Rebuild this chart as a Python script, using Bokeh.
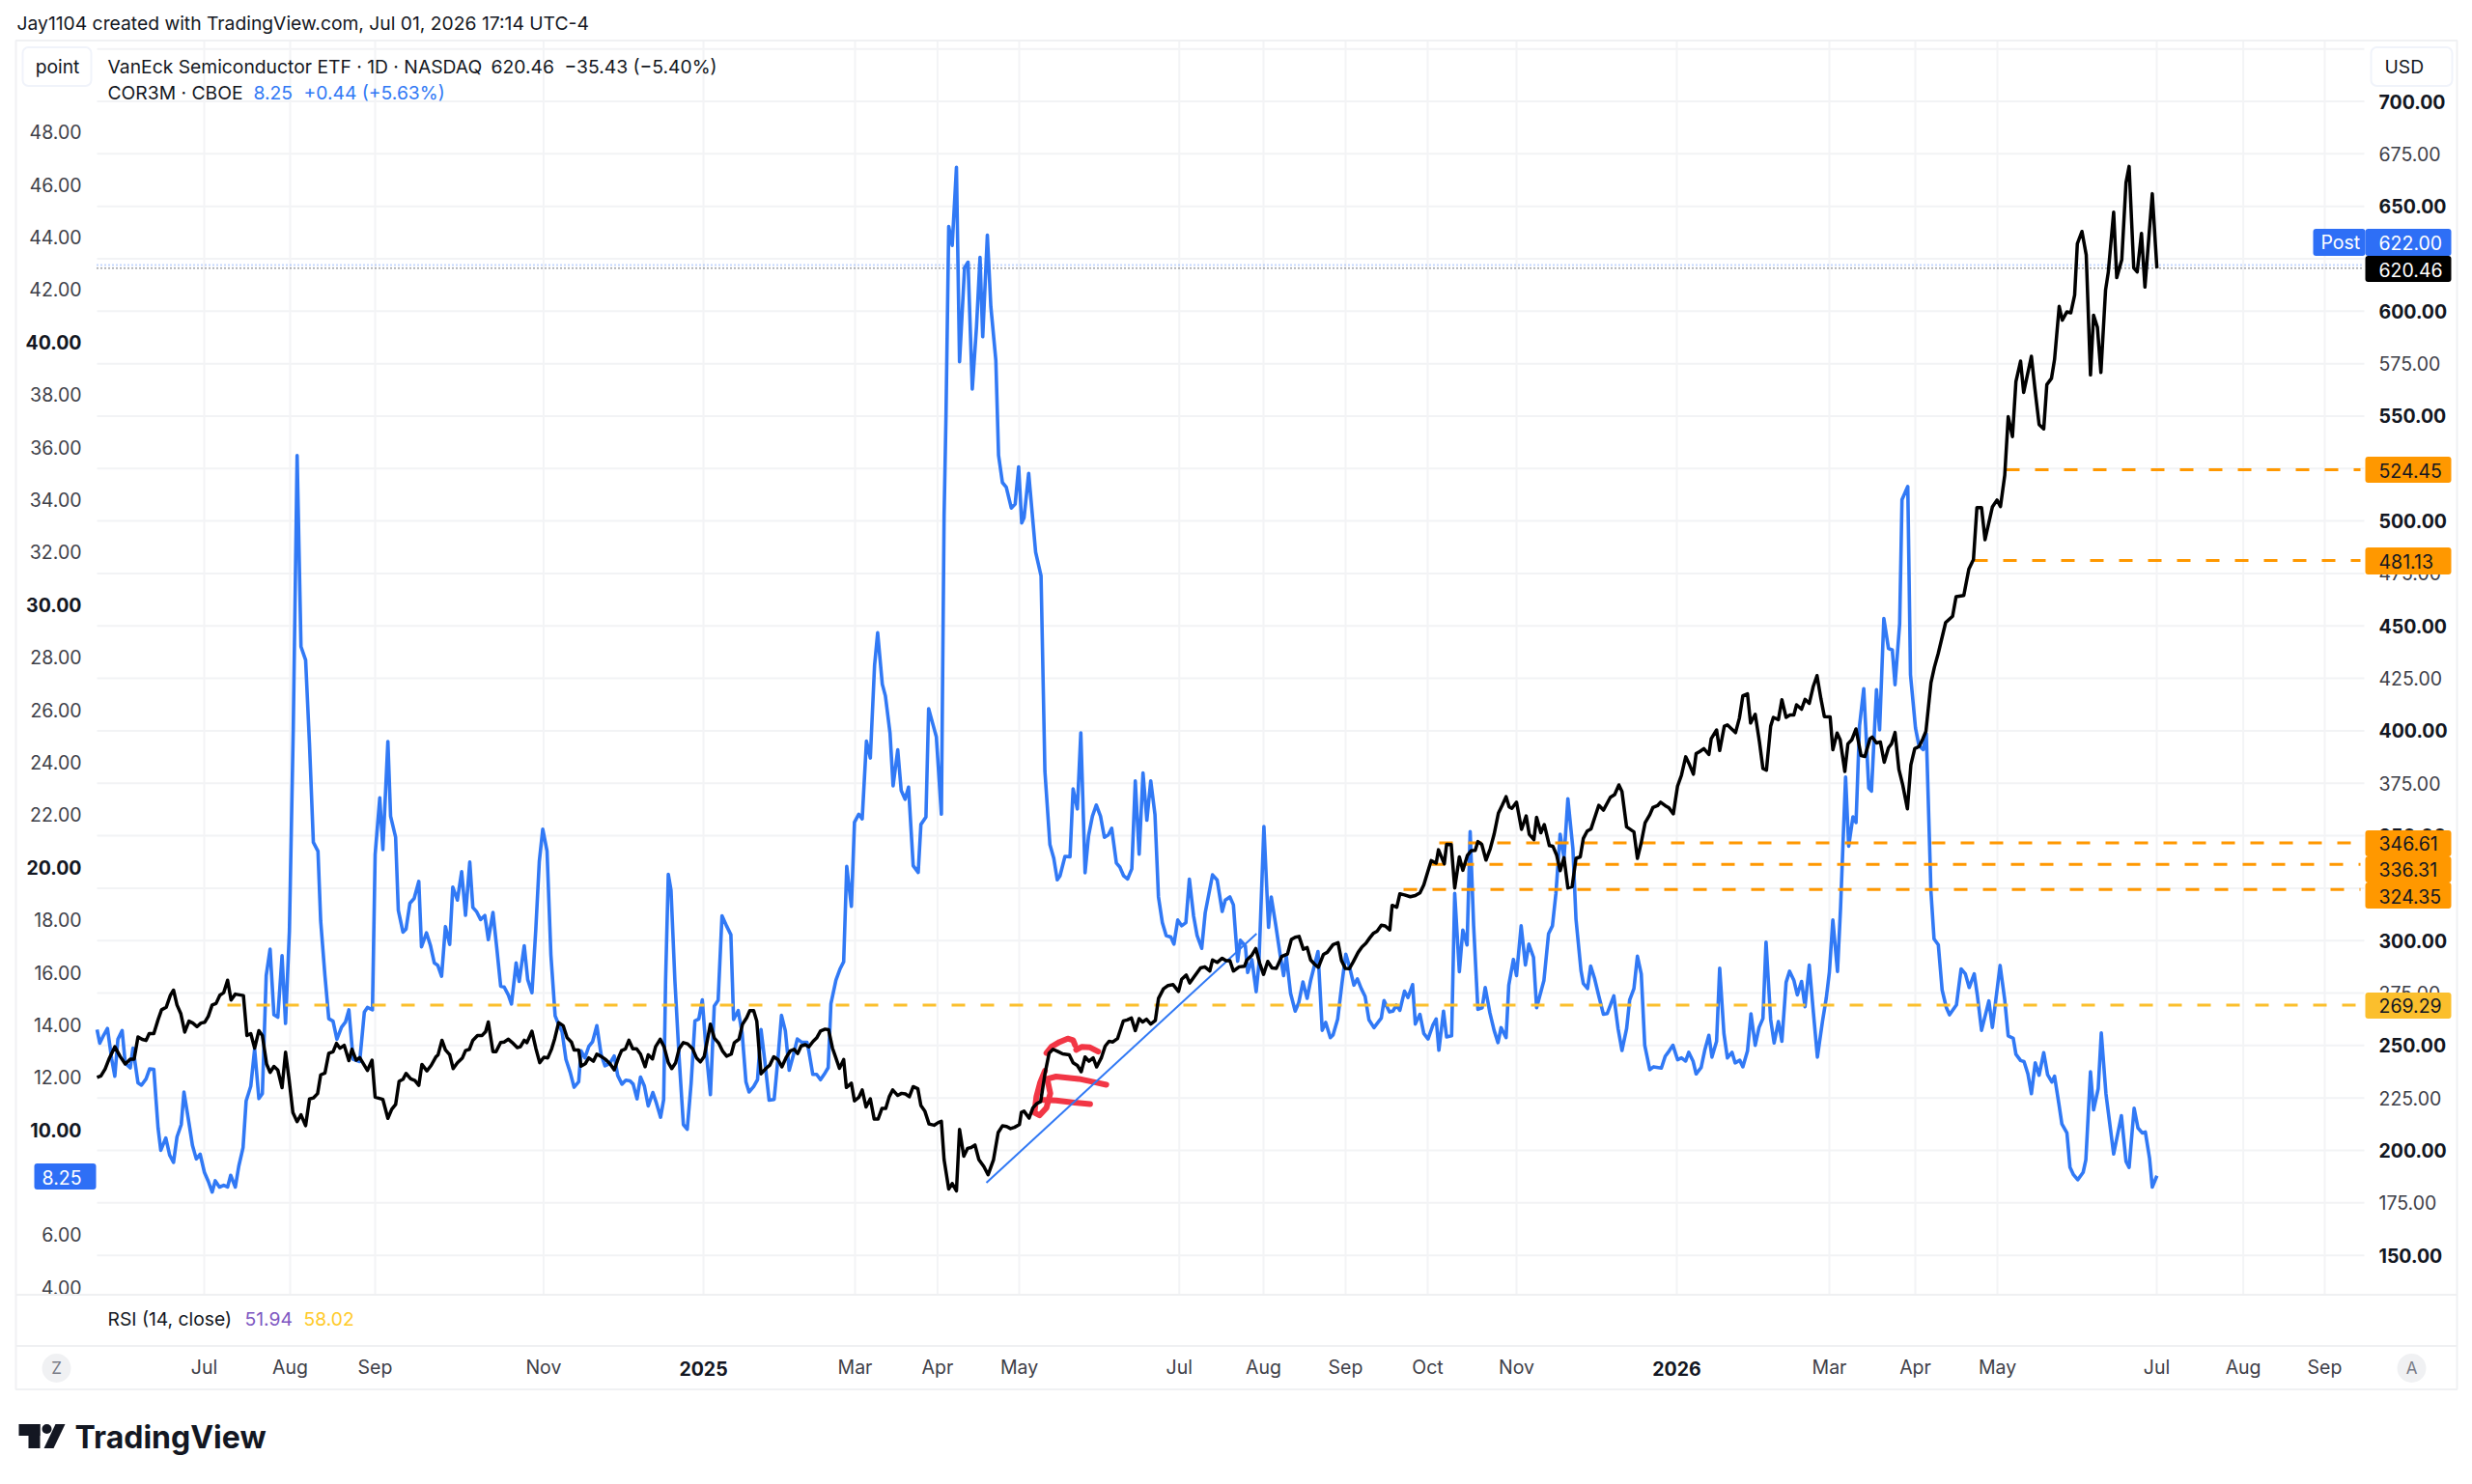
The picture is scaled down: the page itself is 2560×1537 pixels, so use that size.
from bokeh.plotting import figure
from bokeh.models import (Range1d, LinearAxis, FixedTicker, Label, BoxAnnotation, PolyAnnotation)
from bokeh.embed import file_html
from bokeh.resources import INLINE

# (session index, SMH close in USD) - right scale
smh_close = [
(0,234.8),(1,235.5),(2.1,238.8),(3.2,244),(4.6,249.4),(6,244.7),(7.3,241.2),(8.6,243.5),(9.6,243.5),(10.6,254.1),
(11.7,252.9),(12.7,252.4),(13.5,255.7),(14.7,255.7),(15.8,262.3),(16.7,267),(17.9,268.2),(19,274),(19.8,276.4),(20.7,269.3),
(21.7,265.1),(22.7,256.4),(23.8,261.6),(24.8,260.7),(25.9,259),(26.9,260.7),(27.9,261.1),(28.8,263.9),(29.8,269.3),(30.8,270),
(31.8,274),(32.8,275.2),(33.8,281.1),(34.7,271.7),(35.8,274.5),(37.9,273.8),(38.8,254.8),(39.8,255.7),(40.8,248.7),(41.9,257.1),
(42.8,254.8),(43.9,241.2),(44.8,237.2),(45.8,240),(46.8,238.3),(47.9,229.9),(48.8,246.8),(49.7,234.1),(50.7,218.1),(51.8,213.7),
(52.8,217),(54,211.8),(55,224.5),(56,225),(57.1,227.1),(57.9,236),(59,236.9),(60,246.3),(61.1,247),(62,251),
(62.9,248.7),(64,250.1),(65.2,242.8),(66,248.2),(67.1,243),(68,244.2),(70,238.1),(71.2,243),(72,225.4),(74,224.3),
(75.3,215.3),(76.3,219.6),(77.3,221.9),(78.2,232.9),(79.2,233.9),
(80,236.7),(81.2,234.1),(82.3,233.3),(83.3,231),(84.1,241),(85.4,237.9),(86.5,240.5),(87.7,244.5),(88.3,245.6),(89.3,252.5),
(90.2,247.9),(91.3,245.6),(92.2,239),(93.3,241.8),(94.6,244.1),(95.4,247.6),(96.4,248.2),(97.3,252.5),(98.5,254.8),(99.7,254.8),
(100.6,256.6),(101.3,261.2),(102.5,247.1),(103.3,247.1),(104.5,251.4),(105.4,251.7),(106.5,253),(107.5,251.4),(108.8,249),(109.6,249.4),
(110.6,252.5),(111.3,251.4),(112.6,256.8),(113.6,248.7),(114.6,241.8),(115.7,244.4),(116.7,244.1),(117.7,248.4),(118.5,253.3),(119.5,260.9),
(120.7,259.4),(121.7,253.7),(122.8,251.7),(123.5,247.9),(124.7,247.9),(125.3,240.2),(126.4,241.3),(127.3,244.1),(128.5,242.5),(129.4,245.9),
(130.5,244.8),(131.7,243.3),(132.8,241.3),(133.9,238.4),(135,244.1),(135.8,247.6),(136.8,248.4),(137.7,252.5),(138.7,248.4),(139.7,248.4),
(140.7,245.9),(141.9,239.9),(142.7,245.6),(143.8,243.6),(144.6,249.4),(145.8,253),(146.8,249.4),(147.9,241.8),(148.8,239),(149.8,241.8),
(150.7,248.4),(151.8,251.4),(152.9,250.8),(154.2,248.4),(155.2,244.1),(156.2,242.2),(157.2,244.8),(158,252.5),(158.8,260.2),(159.8,253.6),
(161,251),(162,247.2),(163,244.9),(164.2,245.9),(165,251.4),(166.2,253),(167.1,260.1),(168.2,263.3),(169,266.6),(170,266.6),
(170.8,261.7),(171.9,236.5),(173.2,239.1),(174.2,240.7),(175.2,244.6),(176.3,243.3),(177.3,239.8),(178.5,244.6),(179.5,247.5),(180.5,248.2),
(181.4,246.2),(182.3,249.8),(183.4,250.4),(184.3,249.4),(185.4,252),(186.3,253.6),(187.3,256.9),(188.5,257.8),(189.4,257.5),(190.4,248.8),
(191.3,244),(192.2,239.1),(193.3,243.3),(194,230),(195.3,232),(196.1,223.6),(197.2,225.2),(198.1,228.8),(199.1,220.7),(200.2,224.6),
(201.2,214.9),(202.2,214.9),(203.2,220),(204.2,220),(205.1,225.6),(206,228.8),(207.3,226.2),(208.3,227.2),(209.3,226.9),(210.3,225.6),
(211.3,230.4),(212.5,229.4),(213.3,221.4),(214.3,218.8),(215.4,212.6),(216.7,212),(217.8,213.3),(218.6,213.9),(219.3,195.6),(220.5,181.6),
(221.4,184.2),(222.5,180.7),(223.3,210),(224.4,197.2),(225.4,201),(226.3,201.4),(227.3,202.6),(228.3,195.6),(229.6,192.3),(230.7,188.4),
(232.1,195.6),(233.3,208.5),(234.4,211.7),(235.5,211.4),(236.5,210.4),(237.5,211),(238.8,212.3),(239.3,218.1),
(240,218.7),(241.3,215.4),(242.3,220.3),(243.3,222.3),(244.3,223.3),(245.4,236.4),(246.5,246.4),(247.5,248.2),(248.8,247.1),(250,246),
(251.7,245.6),(252.7,241.8),(253.8,240.5),(254.8,237.5),(255.8,244.5),(256.8,242.5),(257.9,244.1),(258.8,239.8),(260,244.1),(261,249.7),
(262,252),(263,251.7),(264.2,253.3),(265.7,261.7),(266.7,262.2),(267.8,263.1),(268.8,257.1),(269.8,262.8),(270.7,261.2),(271.7,262.5),
(272.8,260.2),(274,262),(274.8,272.4),(276.1,277),(277.3,278.6),(278.6,279),(280,275.8),(280.8,281.6),(282,283.6),(282.9,279.8),
(284.2,283.2),(285.7,287),(286.8,287.5),(288.1,285.5),(288.8,290.8),(290,289.6),(291.3,291.6),(292.3,290.4),(293.3,290.4),(294.2,285.5),
(295.7,287.5),(297.1,287.8),(297.7,290.8),(299,293.1),(300,296.2),(301,289.3),(302,283.9),(303.1,290.1),(304.2,287),(305.3,286.7),
(306.7,292.4),(308.2,293.6),(309.2,300.5),(310.2,301.6),(311.2,302),(312.3,295.9),(313.3,296.7),(314.2,290.8),(315.2,288.8),(316.2,287.3),
(317.5,293.4),(318.5,294.4),
(320,298.1),(321.3,299),(322.2,290.4),(323.2,286.7),(324.2,286.6),(325.2,289.8),(326.5,294.4),(327.5,297),(328.5,298.7),(329.5,301.3),
(330.4,303.4),(331.4,304.5),(332.5,307.3),(333.5,307),(334.7,305.1),(335.3,316.8),(336.5,315.9),(337.3,322.3),(338.5,321.8),(340,320.9),
(341.3,321.5),(342.5,322.8),(343.5,326.6),(344.5,332.7),(345.4,338.1),(346.7,336.9),(347.3,343.3),(348.8,336.6),(349.4,345.9),(350.6,345.8),
(351.5,325.1),(352.7,339.9),(353.6,333.5),(354.8,340.7),(355.8,342.9),(356.8,343),(357.5,347.2),(358.5,345.9),(359.6,338.4),(360.7,343.8),
(361.7,350.7),(362.8,360.7),(363.8,364.5),(364.8,368.6),(365.6,363.7),(366.3,363),(367.5,366),(368.8,353),(370,359.4),(370.8,350.7),
(372,348.1),(372.7,358.8),(373.8,351.4),(374.7,355.3),(376,345.3),(376.9,345),(377.9,340.7),(378.8,333.3),(379.8,339.5),(380.8,325.1),
(381.9,325.7),(382.9,339.2),(384,339.9),(384.8,348.7),(385.8,352.2),(386.8,353.3),(388.8,364.5),(390,362.2),(391.8,368.3),(392.9,369.6),
(394,374.2),(394.8,371.1),(396,354.2),(397.9,351.8),(398.8,339.2),(399.8,346.8),
(400.8,356.2),(402,360),(402.8,363.4),(404,364.3),(404.8,366),(406,364.3),(407,363.2),(408.1,360.4),(409.2,373.7),(410.2,378.8),
(411.3,387.6),(412.3,383.8),(413.3,379.3),(414,389.1),(415,390.2),(416,391.5),(417.3,388.7),(417.9,396.2),(419.3,400.4),(420.1,390.6),
(421.3,402.2),(422.1,402.8),(423.2,400.9),(424.2,399.1),(425.2,406),(426.1,416.7),(427.3,417.6),(428.1,403.7),(429.3,407.9),(430.4,394.7),
(431.3,382),(432.2,381.2),(433.3,402.2),(434,406.4),(435.3,405.3),(436.2,414.8),(437.3,406.4),(438.3,407.5),(439.3,407.5),(440,412.4),
(441.3,410.3),(442.2,415),(443.3,413.1),(444.3,421),(445.3,426.3),(446.3,415.4),(447.2,406.8),(448.7,406.6),(449.4,391),(450.5,398.9),
(451.3,395.7),(452.5,380.6),(453.3,393.8),(454.3,395.7),(455.4,400.9),(456.7,388.2),(457.7,387.8),(459,396.2),(459.6,397),(460.7,394.2),
(461.7,394.7),(462.7,385),(463.8,391.9),(464.6,393.8),(465.5,399.2),(466.5,381.6),(467.5,374.1),(468.7,362.8),(469.6,383.8),(470.6,391.5),
(471.7,392.5),(472.7,396.2),(473.5,399.8),(474.8,422.9),(475.7,430.4),(476.7,437),(478.6,451.6),
(480.4,454.6),(481.3,463.9),(483.3,464.5),(484.6,477),(485.8,481.6),(486.7,506.4),(487.9,506.4),(488.8,491.1),(490.7,506.7),(491.9,510),
(492.8,506.9),(493.9,521.8),(494.8,549.7),(495.9,540.2),(496.8,566.5),(498,576.2),(498.8,561.3),(500.8,578.5),(501.7,563.2),(502.8,546),
(504,543.9),(504.8,565),(506,568),(506.8,577),(508,602.3),(508.8,595.7),(510,599.7),(511,599.2),(512,607.7),(512.7,632.2),
(513.9,638),(515,626.8),(516.1,569.6),(516.9,598.1),(517.9,592.3),(518.8,570.8),(520,610),(520.7,618.4),(522.1,647.2),(522.9,616),
(524.2,624.5),(525.3,661.3),(526.1,669),(527.3,620.7),(528.2,618.7),(529.3,637.1),(530.2,611.5),(532.1,656),(533.3,620.46),
]

# (session index, COR3M value) - left scale
cor3m_value = [
(0,13.82),(0.7,13.3),(1.7,13.6),(2.7,13.86),(3.8,12.69),(4.6,12.04),(5.4,13.45),(6.5,13.78),(7.3,12.54),(8.6,12.36),
(9.3,13.11),(10.6,11.79),(11.5,11.7),(12.7,11.94),(13.6,12.32),(14.7,12.3),(15.8,10.07),(16.5,9.22),(17.8,9.69),(18.8,9.04),
(19.8,8.76),(20.7,9.73),(21.8,10.2),(22.5,11.44),(23.8,10.26),(24.7,9.41),(25.7,8.89),(26.7,9.07),(27.8,8.38),(28.8,8.04),
(29.8,7.63),(30.6,8.06),(31.7,7.82),(32.8,7.89),(33.8,7.82),(34.6,8.27),(35.8,7.82),(36.7,8.62),(37.8,9.32),(38.6,11.1),
(39.8,11.66),(40.8,13.07),(41.9,11.19),(42.8,11.38),(43.8,15.88),(44.8,16.88),(45.8,14.38),(46.8,14.29),(47.9,16.63),(48.8,14.05),
(49.8,17.57),(50.8,25.26),(51.8,35.68),(52.8,28.4),(54,27.89),(55,24.7),(56,20.95),(57.2,20.61),(57.9,17.95),(59,15.88),
(60,14.23),(61.1,14.14),(62.1,13.45),(63.3,13.91),(64.3,14.1),(65.2,14.57),(66.3,12.69),(68,12.6),(69.2,14.48),(70,14.66),
(71.3,14.57),(72,20.48),(73.2,22.64),(74,20.67),(75.3,24.79),(76,21.94),(77.3,21.14),(78,18.36),(79.2,17.53),
(80,17.65),(81,18.63),(82.1,18.81),(83.3,19.46),(84,16.97),(85.3,17.5),(86.3,17.03),(87.3,16.36),(88.2,16.27),(89.2,15.85),
(90.2,17.74),(91.3,17.06),(92.1,19.24),(93.3,18.75),(94.4,19.83),(95.4,18.17),(96.5,20.2),(97.3,18.47),(98.3,18.3),(99.3,18.01),
(100.4,18.16),(101.3,17.24),(102.5,18.28),(103.5,16.91),(104.5,15.47),(105.4,15.44),(106.5,15.13),(107.3,14.79),(108.5,16.36),(109.3,15.65),
(110.6,17.01),(111.5,15.72),(112.6,15.22),(113.6,17.65),(114.5,20.22),(115.4,21.45),(116.5,20.62),(117.5,16.67),(118.6,14.34),(119.3,14.09),
(120.4,13.73),(121.4,12.68),(122.5,12.19),(123.5,11.62),(124.7,11.83),(125.3,13.01),(126.3,12.74),(127.3,13.17),(128.3,13.36),(129.4,13.97),
(130.5,12.87),(131.5,12.44),(132.7,12.52),(133.9,12.81),(134.8,12.07),(135.9,11.74),(136.9,11.89),(138,11.86),(138.8,11.74),(139.8,11.18),
(140.7,12.01),(141.7,11.67),(142.7,10.91),(143.9,11.42),(144.8,11.03),(145.9,10.48),(146.7,11.15),(147.2,15.69),(147.9,19.73),(148.6,19.12),
(149.6,15.69),(150.7,12.74),(151.8,10.2),(152.8,10.02),(153.8,11.76),(154.8,14.15),(155.8,14.22),(156.7,14.95),(157.7,12.99),(158.8,11.34),(159.8,14.71),
(160.8,14.93),(161.8,18.15),(163,17.76),(164.1,17.43),(164.8,14.2),(166,14.54),(167,13.71),(168,11.83),(168.8,11.44),(170,11.65),
(171,11.91),(171.9,13.82),(172.9,12.6),(174,11.13),(175.3,11.16),(176.3,12.73),(177.2,14.36),(178.2,13.77),(179.2,12.27),(180.3,12.86),
(181.3,13.46),(182.5,13.33),(183.8,13.33),(184.3,12.99),(185.3,12.11),(186.3,12.11),(187.3,11.91),(188.5,12.17),(189.3,12.37),(190,14.8),
(191.3,15.7),(192.4,16.14),(193.3,16.4),(194.1,20.03),(195.3,18.51),(196.1,21.71),(197.2,22.02),(198.1,21.84),(199.2,24.8),(200.2,24.16),
(201.3,27.69),(202.1,28.93),(203.3,26.97),(204.1,26.53),(205.3,25.11),(206.1,23.1),(207.3,24.47),(208.2,22.92),(209.2,22.59),(210.1,23.05),
(211.3,20.06),(212.6,19.8),(213.3,21.63),(214.6,21.91),(215.3,26.04),(216.3,25.5),(217.3,24.96),(218.6,22.02),(219.3,33.37),(219.8,37.23),
(220.5,44.4),(221.4,43.68),(222.5,46.65),(223.3,39.25),(224.6,42.83),(225.5,43.04),(226.6,38.21),(227.7,40.59),(228.6,43.22),(229.3,40.2),
(230.5,44.07),(231.4,41.36),(232.7,39.3),(233.4,35.69),(234.4,34.65),(235.4,34.47),(236.7,33.68),(237.7,33.83),(238.6,35.25),(239.4,33.11),
(240,33.31),(241.2,35.0),(243,32.0),(244.4,31.1),
(245.4,23.65),(246.7,20.86),(247.7,20.34),(248.6,19.52),(249.3,19.67),(250.6,20.41),(251.9,20.4),(252.7,22.98),(253.8,22.22),(254.7,25.12),
(255.8,19.79),(256.7,21.2),(257.7,21.94),(258.7,22.37),(259.8,21.94),(260.8,21.14),(261.8,21.23),(262.7,21.48),(263.9,20.16),(264.8,20.01),
(265.8,19.67),(266.8,19.55),(267.9,19.94),(268.8,23.29),(269.8,20.5),(270.8,23.59),(271.8,21.79),(272.8,23.29),(273.9,22),(274.8,18.87),
(275.8,17.89),(276.8,17.4),(278,17.34),(278.8,17.07),(279.8,17.99),(280.8,17.77),(281.9,17.89),(282.8,19.55),(283.9,18.14),(284.8,17.4),
(286,16.91),(286.9,18.26),(288.8,19.71),(290,19.51),(291.3,18.32),(292.1,18.75),(293.3,18.87),(294.2,18.57),(295.3,16.42),(296,17.22),
(297.3,17),(297.9,15.99),(299,16.48),(300.1,15.26),(300.8,16.3),(302.1,21.55),(303.3,17.71),(304,18.87),(305.2,17.77),(306.3,16.67),
(307.2,15.87),(307.9,16.61),(309,15.2),(310.2,14.52),(311.1,14.83),(312.2,15.63),(313.3,15.01),(314.2,15.69),(316.1,16.79),(317.2,13.79),
(318.1,14.09),(319.3,13.51),
(320,13.61),(321.2,14.22),(322.3,15.57),(323.3,16.69),(324.3,16.18),(325.4,15.51),(326.3,15.75),(327.3,15.38),(328.3,15.08),(329.3,14.19),
(330.6,13.89),(332.5,14.26),(333.2,14.92),(334.6,14.49),(335.5,14.52),(336.4,14.75),(337.3,14.55),(338.5,15.28),(339.4,15.04),(340.6,15.53),
(341.3,14.03),(342.5,14.4),(343.5,13.67),(344.6,13.46),(345.8,13.97),(346.7,14.22),(347.4,13.03),(348.6,14.52),(349.4,13.54),(350.7,13.58),
(351.5,19),(352.7,16.02),(353.6,17.61),(354.7,17.04),(355.5,21.36),(356.4,17.77),(357.5,14.59),(358.6,14.65),(359.4,15.42),(360.6,14.46),
(361.7,13.79),(362.7,13.32),(363.5,13.89),(364.8,13.51),(365.5,15.51),(366.7,16.49),(367.5,15.87),(368.7,17.77),(369.8,16.28),(370.7,17.07),
(371.9,16.57),(372.7,14.65),(374.6,15.69),(375.8,17.47),(376.8,17.77),(377.7,19),(378.8,21.26),(379.8,20.35),(380.8,22.61),(382.1,20.71),
(382.9,18.02),(384.2,16.06),(384.8,15.57),(385.9,15.38),(386.7,16.24),(387.7,15.77),(388.8,15.1),(390,14.4),(391,14.43),(392.7,15.1),
(393.8,13.85),(394.8,13.02),(396,13.85),(396.8,14.95),(397.9,15.38),(398.8,16.61),(399.8,15.93),
(400.7,13.22),(402,12.29),(403,12.4),(405,12.35),(406,12.8),(407,13),(408,13.22),(409.2,12.67),(410.2,12.74),
(411.3,12.62),(412.1,12.95),(413.2,12.62),(414,12.13),(415.3,12.37),(416.3,13.07),(417.3,13.6),(418.1,12.77),(419.3,13.37),(420.1,16.15),
(421.2,13.67),(422.1,12.74),(423.3,12.95),(424.1,12.55),(425.3,12.65),(426.1,12.4),(427.3,13),(428.2,14.42),(429.3,13.22),(430.3,13.9),
(431.3,14.24),(432.1,17.15),(433.3,14.2),(434.2,13.31),(435.3,14.12),(436.2,13.37),(437.3,15.62),(438.2,16.04),(439.3,15.7),(440.2,15.14),
(441.3,15.65),(442.2,14.69),(443.3,16.27),(444.3,14.57),(445.4,12.77),(446.7,14.12),(447.7,15.02),(448.5,16),(449.4,17.99),(450.6,16.03),
(451.4,18.47),(452.1,21.17),(452.7,23.43),(453.5,20.8),(454.6,21.92),(455.4,21.7),(456.3,25.38),(457.4,26.8),(458.7,23.01),(459.4,22.9),
(460.7,26.76),(461.5,25.23),(462.6,29.47),(463.8,28.33),(464.8,28.27),(465.5,26.95),(466.7,29.28),(467.3,34),(468.8,34.5),(469.5,27.33),
(470.8,25.3),(471.7,24.63),(472.8,24.48),(473.6,25.08),(474.8,19.07),(475.6,17.27),(476.7,17.05),(477.7,15.32),(478.8,14.65),(479.6,14.38),
(481.4,14.76),(482.6,16.13),(483.7,15.94),(484.7,15.42),(486,15.94),(486.8,15.14),(487.9,13.79),(489.8,14.91),(490.7,13.9),(492.7,16.26),
(493.9,14.95),(494.8,13.58),(496.1,13.49),(496.8,12.88),(498,12.64),(498.9,12.6),(499.9,12.13),(500.8,11.38),(501.8,12.55),(502.8,12.08),
(504,12.94),(505,12.1),(506.1,11.82),(506.8,12.04),(507.9,11.01),(508.7,10.22),(510,9.88),(510.8,8.57),(511.7,8.29),(512.8,8.1),
(514.2,8.38),(514.9,8.85),(516.1,12.21),(516.9,10.76),(518.1,11.57),(518.9,13.69),(520.1,11.38),(522.1,9.08),(524.1,10.54),(525.3,8.8),
(526.1,8.57),(527.4,10.82),(528.4,10.07),(529.5,9.88),(530.3,9.92),(531.4,8.91),(532.1,7.82),(533.3,8.25),
]

trend_bars = [230.25, 300.2]
trend_prices = [184.6, 303.3]

level_prices = [269.29, 324.35, 336.31, 346.61, 481.13, 524.45]
level_start = [33.75, 338.25, 345.5, 347.5, 486, 494.25]
level_colors = ["#FBBF2D", "#FF9800", "#FF9800", "#FF9800", "#FF9800", "#FF9800"]

scribbles = [
    [(245.8,246.4),(247.1,249.4),(249.2,251.7),(251.3,253.3),(252.7,252.5),(253.2,250.2)],
    [(253.5,247.9),(255,249.4),(257.1,249.1),(259.2,247.1)],
    [(245.4,237.9),(244.2,232.5),(243.2,225.6),(242.7,218),(244,216.7),(245.8,220.3),(246.8,227.2),(246,234.1),
     (248.3,235.2),(254.2,234.1),(258.3,232.5),(261.3,231.3)],
    [(245,224.1),(248.3,223.8),(252.5,222.9),(257.1,222.1)],
]

month_ticks = [27.75, 50, 72, 115.6, 157, 196.25, 217.6, 238.75, 280.2, 302, 323.25, 344.5, 367.5, 409, 448.5, 470.75, 492, 533.25, 555.65, 576.75]
month_labels = ["Jul","Aug","Sep","Nov","2025","Mar","Apr","May","Jul","Aug","Sep","Oct","Nov","2026","Mar","Apr","May","Jul","Aug","Sep"]
right_ticks = list(range(150, 701, 25))
left_ticks = [4, 6, 10, 12, 14, 16, 18, 20, 22, 24, 26, 28, 30, 32, 34, 36, 38, 40, 42, 44, 46, 48]
grid_prices = list(range(150, 726, 25))

FONT = "Inter"
BASE = "19.5px"
HEAD = "19.3px"
TXT = "#131722"
SOFT = "#3E4048"
LINE_BLUE = "#3179F5"
BADGE_BLUE = "#2E6FF6"

# pane limits in data units and in canvas pixels
X_MAX, P_LO, P_HI, C_LO, C_HI = 587, 131.2, 729.0, 3.72, 51.48
DY = -1.5
F_L, F_T, F_W, F_H = 100, 43 + DY, 2348, 1299
W, H = 2552, 1529
xpp = X_MAX / F_W
ppp = (P_HI - P_LO) / F_H
cpp = (C_HI - C_LO) / F_H

# the plot frame fills the whole canvas, so the chrome around the pane is not clipped
p = figure(width=W, height=H, output_backend="svg", toolbar_location=None,
           x_range=Range1d(-F_L * xpp, (W - F_L) * xpp),
           y_range=Range1d(P_HI - (H - F_T) * ppp, P_HI + F_T * ppp),
           x_axis_location=None, y_axis_location=None, tools="",
           min_border_left=0, min_border_right=0, min_border_top=0, min_border_bottom=0)
p.outline_line_color = None
p.background_fill_color = "white"
p.border_fill_color = "white"
p.extra_y_ranges = {"cor": Range1d(C_HI - (H - F_T) * cpp, C_HI + F_T * cpp)}
p.center = []

def py(v):
    return 43 + (P_HI - v) / (P_HI - P_LO) * F_H
def cy(v):
    return 43 + (C_HI - v) / (C_HI - C_LO) * F_H
def bx(t):
    return F_L + t / X_MAX * F_W

# pane grid
p.segment([0] * len(grid_prices), grid_prices, [X_MAX] * len(grid_prices), grid_prices, line_color="#F2F3F5", line_width=2)
p.segment(month_ticks, [P_LO] * len(month_ticks), month_ticks, [P_HI] * len(month_ticks), line_color="#F3F4F6", line_width=2)

def style_axis(ax):
    ax.axis_line_color = None
    ax.major_tick_line_color = None
    ax.minor_tick_line_color = None
    ax.major_label_text_font = FONT
    ax.major_label_text_font_size = BASE
    ax.major_label_text_color = SOFT

x_ax = LinearAxis(ticker=FixedTicker(ticks=month_ticks), fixed_location=P_LO,
                  major_label_overrides={t: ("" if l.startswith("20") else l) for t, l in zip(month_ticks, month_labels)},
                  major_label_standoff=57)
style_axis(x_ax)
p.add_layout(x_ax, "below")

r_ax = LinearAxis(ticker=FixedTicker(ticks=right_ticks), fixed_location=X_MAX,
                  major_label_overrides={t: ("" if t % 50 == 0 else f"{t}.00") for t in right_ticks},
                  major_label_standoff=9)
style_axis(r_ax)
p.add_layout(r_ax, "right")

l_ax = LinearAxis(y_range_name="cor", ticker=FixedTicker(ticks=left_ticks), fixed_location=0,
                  major_label_overrides={t: ("" if t % 10 == 0 else f"{t}.00") for t in left_ticks},
                  major_label_standoff=10)
style_axis(l_ax)
p.add_layout(l_ax, "left")

# dotted last-price lines
p.segment([0], [622.0], [X_MAX], [622.0], line_color=BADGE_BLUE, line_dash="1 3", line_width=2, line_alpha=0.55)
p.segment([0], [620.46], [X_MAX], [620.46], line_color="#131722", line_dash="1 3", line_width=1.5, line_alpha=0.8)

p.line([a for a, _ in cor3m_value], [b for _, b in cor3m_value], y_range_name="cor",
       line_color=LINE_BLUE, line_width=3.6, line_join="round")

p.segment(level_start, level_prices, [586] * 6, level_prices, line_color=level_colors, line_width=3, line_dash="14 16")

for s in scribbles:
    p.line([a for a, _ in s], [b for _, b in s], line_color="#F23645", line_width=6, line_cap="round", line_join="round")

p.line(trend_bars, trend_prices, line_color=LINE_BLUE, line_width=2)
p.line([a for a, _ in smh_close], [b for _, b in smh_close], line_color="black", line_width=3.5, line_join="round")

def cv(x, y, s, color=TXT, size=BASE, style="normal", align="left", font=FONT):
    p.add_layout(Label(x=x, y=y + DY, x_units="canvas", y_units="canvas", text=s, text_color=color,
                       text_font_size=size, text_font_style=style, text_align=align,
                       text_baseline="middle", text_font=font))

def box(l, t, r, b, fill=None, line=None, width=1, radius=0):
    p.add_layout(BoxAnnotation(left=l, right=r, top=t + DY, bottom=b + DY,
                               left_units="canvas", right_units="canvas", top_units="canvas", bottom_units="canvas",
                               fill_color=fill if fill else "white", fill_alpha=1 if fill else 0,
                               line_color=line, line_width=width, line_alpha=1 if line else 0,
                               border_radius=radius))

# chrome frame
box(16, 43, 2544, 1440, None, "#F0F1F3", 2)
box(16, 1341, 2544, 1343, "#EFF0F2")
box(16, 1394, 2544, 1396, "#EFF0F2")

# bold ticks
for t in right_ticks:
    if t % 50 == 0:
        cv(2463, py(t), f"{t}.00", style="bold")
for t in left_ticks:
    if t % 10 == 0:
        cv(84, cy(t), f"{t}.00", style="bold", align="right")
for t, l in zip(month_ticks, month_labels):
    if l.startswith("20"):
        cv(bx(t), 1418, l, style="bold", align="center")

# header
cv(17, 25, "Jay1104 created with TradingView.com, Jul 01, 2026 17:14 UTC-4", size=HEAD)
box(23, 50, 94, 90, "white", "#F0F3FA", 2, 6)
cv(59, 70, "point", align="center", size=HEAD)
cv(111, 70, "VanEck Semiconductor ETF · 1D · NASDAQ", size=HEAD)
cv(508, 70, "620.46", size=HEAD)
cv(584, 70, "−35.43 (−5.40%)", size=HEAD)
cv(111, 97, "COR3M · CBOE", size=HEAD)
cv(262, 97, "8.25", LINE_BLUE, size=HEAD)
cv(314, 97, "+0.44 (+5.63%)", LINE_BLUE, size=HEAD)
box(2455, 50, 2539, 90, "white", "#F0F3FA", 2, 6)
cv(2469, 70, "USD", size=HEAD)

# RSI legend
cv(111, 1367, "RSI (14, close)", size=HEAD)
cv(253, 1367, "51.94", "#7E57C2", size=HEAD)
cv(314, 1367, "58.02", "#FFCA28", size=HEAD)

# scale badges
box(35, 1206, 99, 1233, BADGE_BLUE, radius=3)
cv(84, 1220, "8.25", "white", align="right")
box(2395, 238, 2449, 266, BADGE_BLUE, radius=3)
cv(2403, 252, "Post", "white")
box(2449, 238, 2538, 266, BADGE_BLUE, radius=3)
cv(2463, 252, "622.00", "white")
box(2449, 266, 2538, 293, "black", radius=3)
cv(2463, 280, "620.46", "white")
box(2449, 474, 2538, 501, "#FF9800", radius=3)
cv(2463, 488, "524.45")
box(2449, 568, 2538, 596, "#FF9800", radius=3)
cv(2463, 582, "481.13")
box(2449, 861, 2538, 888, "#FF9800", radius=3)
cv(2463, 874, "346.61")
box(2449, 888, 2538, 915, "#FF9800", radius=3)
cv(2463, 901, "336.31")
box(2449, 915, 2538, 942, "#FF9800", radius=3)
cv(2463, 929, "324.35")
box(2449, 1029, 2538, 1056, "#FBBF2D", radius=3)
cv(2463, 1042, "269.29")

# Z / A scale buttons
box(43, 1403, 73, 1433, "#F0F1F3", radius=15)
cv(58, 1418, "Z", "#787B86", "17px", align="center")
box(2482, 1403, 2512, 1433, "#F0F1F3", radius=15)
cv(2497, 1418, "A", "#787B86", "17px", align="center")

# TradingView wordmark
box(19, 1476, 41, 1488, "#131722")
box(29, 1476, 41, 1501, "#131722")
box(43, 1476, 53, 1486, "#131722", radius=5)
p.add_layout(PolyAnnotation(xs=[57, 67, 55, 45], ys=[1474.5, 1474.5, 1499.5, 1499.5], xs_units="canvas", ys_units="canvas",
                            fill_color="#131722", fill_alpha=1, line_color=None))
cv(77, 1489, "TradingView", "#131722", "32px", "bold")

open("out.html", "w").write(file_html(p, INLINE))
